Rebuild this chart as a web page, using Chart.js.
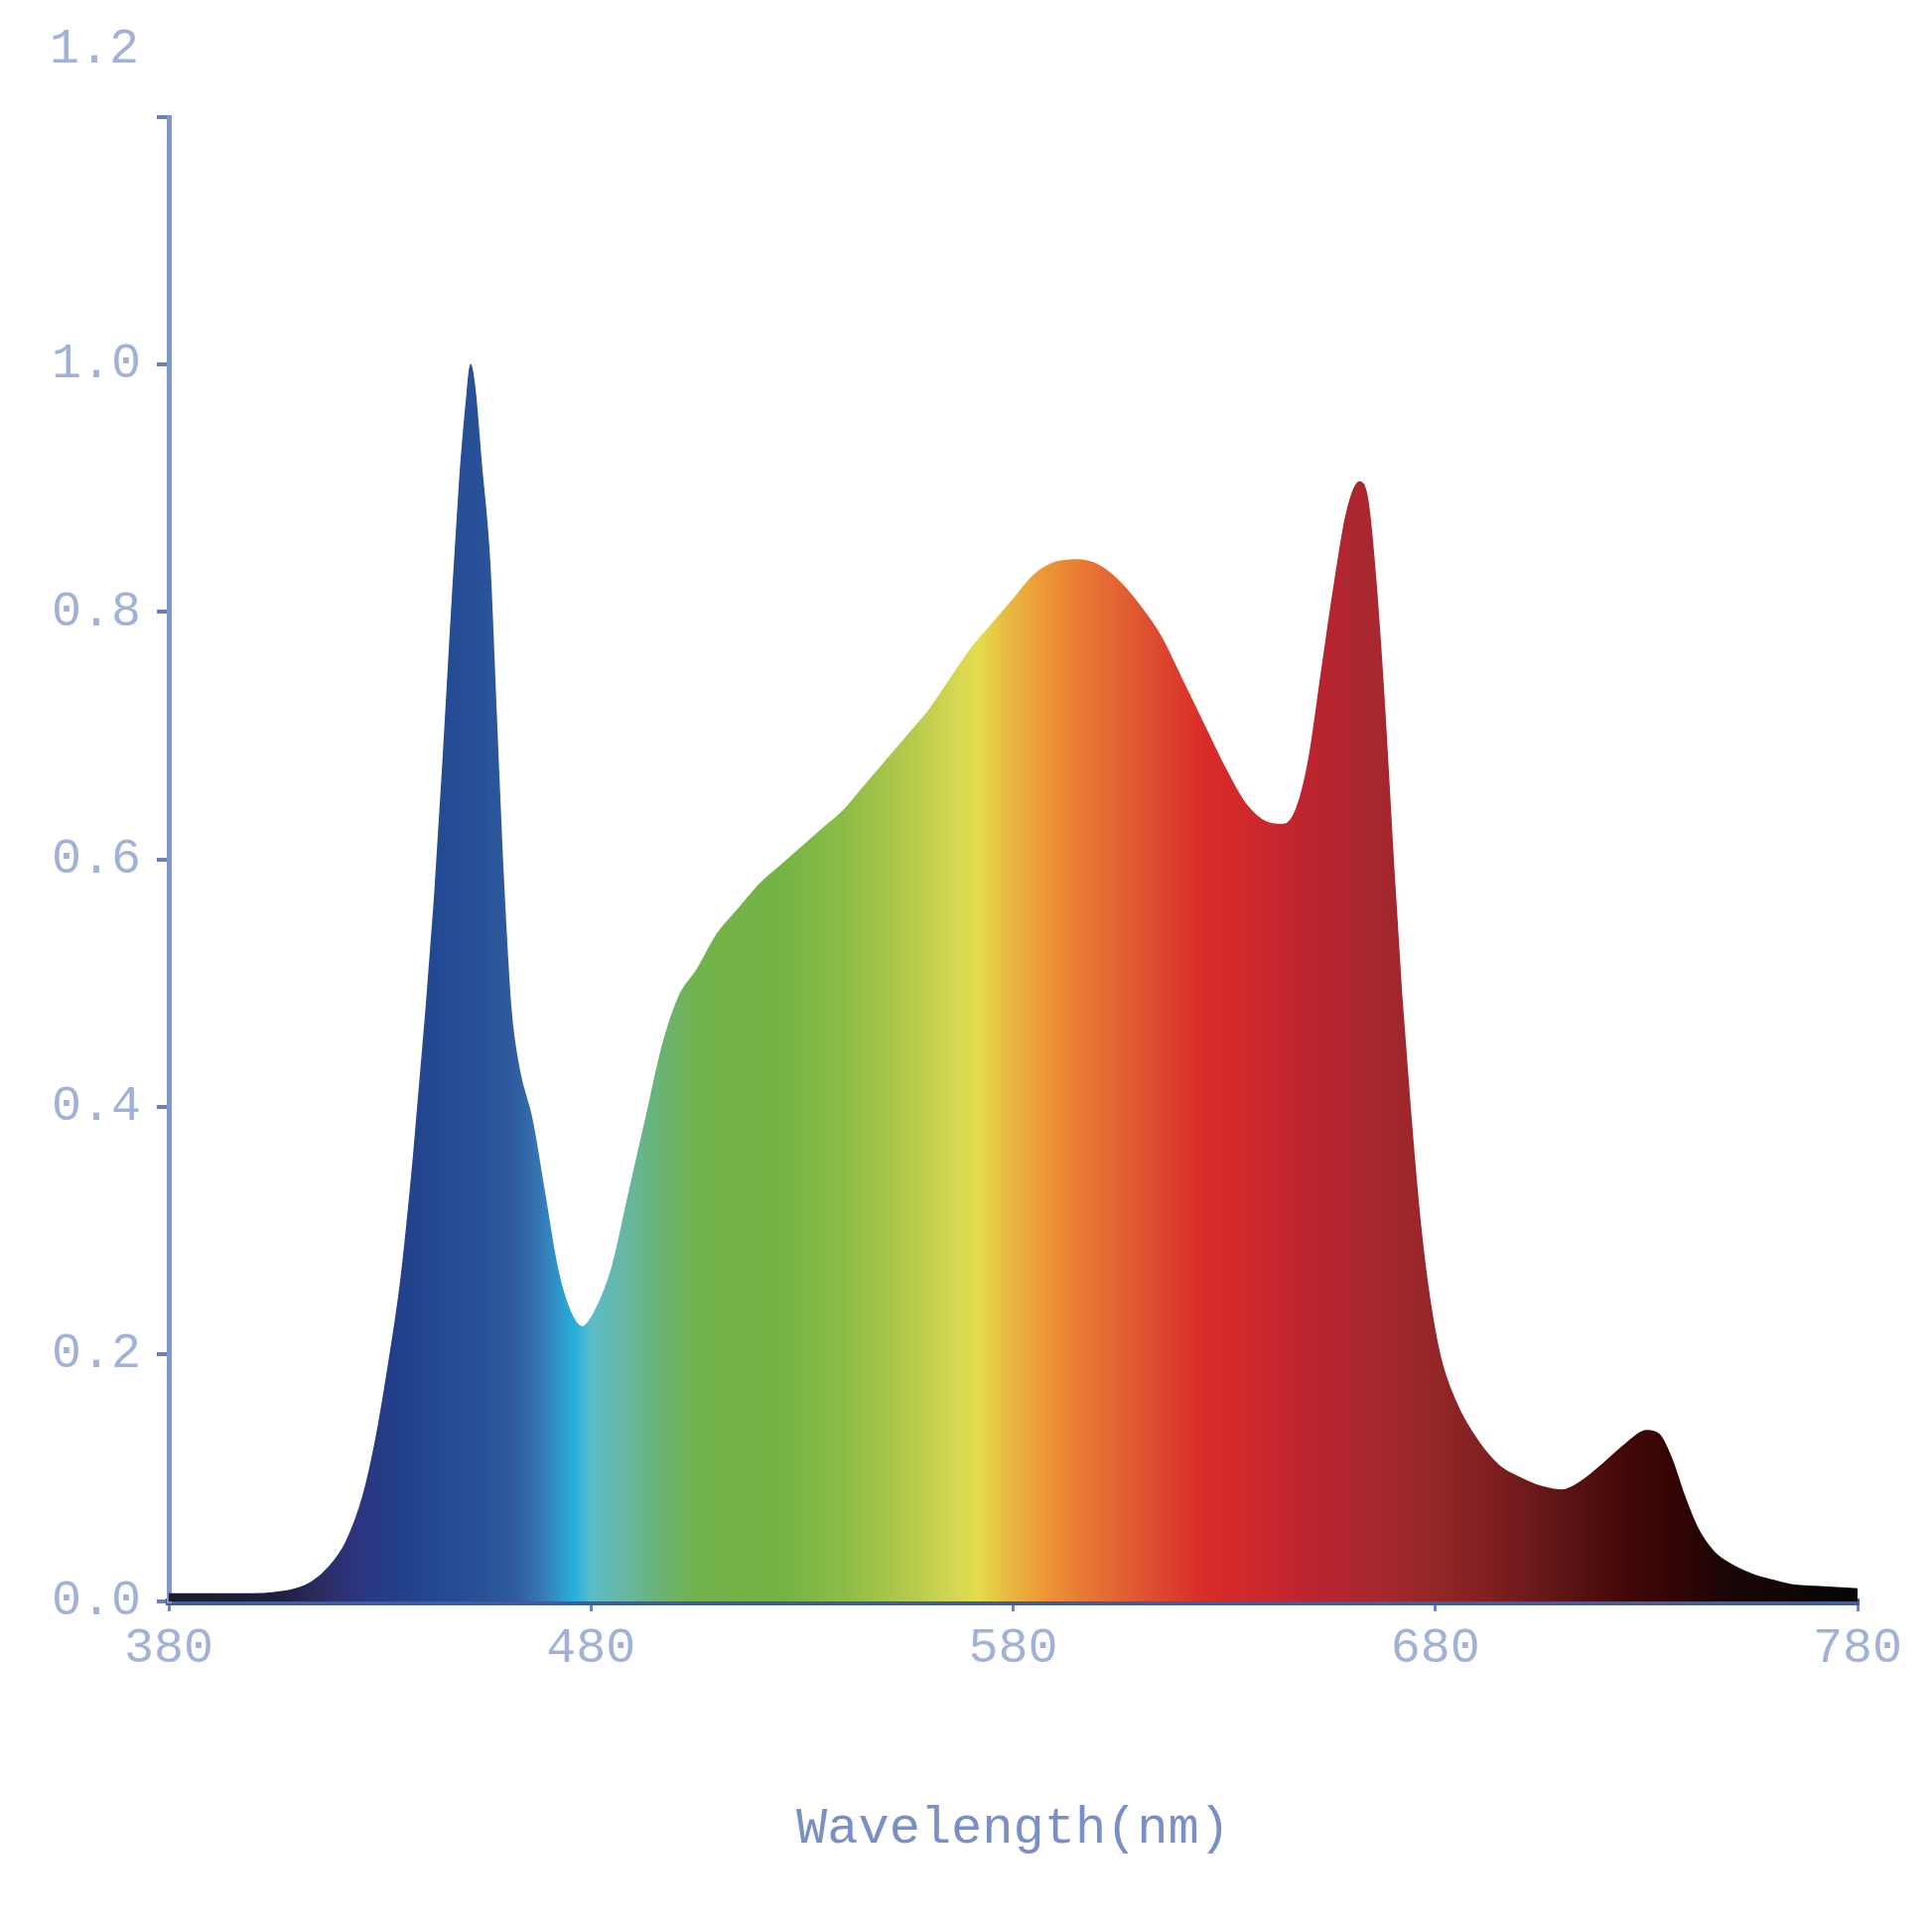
<!DOCTYPE html>
<html>
<head>
<meta charset="utf-8">
<script src="https://cdn.jsdelivr.net/npm/chart.js@4.4.1/dist/chart.umd.min.js"></script>
<style>
    html, body { margin: 0; padding: 0; background: #ffffff; }
    #wrap { width: 1946px; height: 1946px; }
</style>
</head>
<body>
<div id="wrap"><canvas id="spectrumChart" width="1946" height="1946"></canvas></div>
<script>
// Spectrum data (wavelength in nm, relative intensity)
const wavelengths = [
    380, 390, 400, 405, 410, 414, 418, 422, 426, 429, 432, 435, 438, 441, 443, 445, 447, 449, 450.5, 451.5,
    452.5, 454, 456, 457.5, 459, 461, 463, 466, 469, 472, 475, 478, 481, 485, 489, 493, 497, 501, 505, 510,
    515, 520, 525, 530, 535, 540, 545, 550, 555, 560, 565, 570, 575, 580, 585, 590, 595, 600, 605, 610,
    615, 620, 625, 630, 635, 640, 644, 647, 650, 653, 656, 659, 662, 664, 666, 668, 670, 672, 674, 676,
    678, 681, 685, 690, 695, 700, 705, 710, 715, 720, 725, 730, 733, 736, 739, 742, 746, 750, 755, 760,
    765, 770, 775, 780
];
const intensity = [
    0.006, 0.006, 0.006, 0.007, 0.010, 0.016, 0.028, 0.048, 0.085, 0.13, 0.19, 0.26, 0.36, 0.48, 0.57, 0.68, 0.80, 0.91, 0.97, 1.0,
    0.98, 0.92, 0.84, 0.72, 0.60, 0.48, 0.43, 0.39, 0.33, 0.27, 0.235, 0.222, 0.235, 0.27, 0.33, 0.39, 0.45, 0.49, 0.51, 0.54,
    0.56, 0.58, 0.595, 0.61, 0.625, 0.64, 0.66, 0.68, 0.70, 0.72, 0.745, 0.77, 0.79, 0.81, 0.83, 0.84, 0.842, 0.838, 0.825, 0.805,
    0.78, 0.745, 0.71, 0.675, 0.645, 0.63, 0.628, 0.64, 0.68, 0.75, 0.82, 0.88, 0.905, 0.89, 0.82, 0.72, 0.60, 0.49, 0.40, 0.32,
    0.26, 0.20, 0.16, 0.13, 0.11, 0.10, 0.093, 0.09, 0.098, 0.112, 0.127, 0.138, 0.135, 0.115, 0.085, 0.06, 0.04, 0.03, 0.022, 0.017,
    0.013, 0.012, 0.011, 0.01
];
const xTicks = [380, 480, 580, 680, 780];
const yTicks = [0, 0.2, 0.4, 0.6, 0.8, 1.0, 1.2];
const xTitle = 'Wavelength(nm)';

// colour of the fill at each wavelength
const spectrumStops = [
    [380, '#1c1c30'], [405, '#1e1e40'], [415, '#2a2a5e'], [425, '#2c3580'], [435, '#22418a'],
    [445, '#234a94'], [455, '#2a5298'], [462, '#2f5c9e'], [468, '#3677b4'], [473, '#2f9acc'],
    [476, '#25b0dc'], [480, '#5bbcc8'], [487, '#65b8a8'], [495, '#69b47a'], [505, '#72b24c'],
    [525, '#74b444'], [540, '#8cbc46'], [555, '#b3c94c'], [566, '#d4d652'], [572, '#e4dc4c'],
    [578, '#e8bc42'], [586, '#ec9c38'], [596, '#e87a34'], [608, '#e05a32'], [618, '#dc3e2c'],
    [626, '#d82c28'], [638, '#cc282c'], [650, '#bc2430'], [665, '#a8282e'], [680, '#942628'],
    [695, '#7c1e20'], [710, '#5e1414'], [725, '#420808'], [735, '#360404'], [750, '#1a0606'],
    [780, '#050505']
];

const tickColor = '#a2b1d8';
const axisFont = { family: 'Liberation Mono', size: 50 };

function spectrumGradient(context) {
    const chart = context.chart;
    const { ctx, chartArea, scales } = chart;
    if (!chartArea) return '#234a94';
    const x0 = scales.x.getPixelForValue(380);
    const x1 = scales.x.getPixelForValue(780);
    const g = ctx.createLinearGradient(x0, 0, x1, 0);
    spectrumStops.forEach(s => g.addColorStop((s[0] - 380) / 400, s[1]));
    return g;
}

// the 1.2 label sits up in the corner, away from its tick
const cornerLabel = {
    id: 'cornerLabel',
    afterDraw(chart) {
        const ctx = chart.ctx;
        ctx.save();
        ctx.font = '50px "Liberation Mono"';
        ctx.fillStyle = tickColor;
        ctx.textAlign = 'right';
        ctx.textBaseline = 'middle';
        ctx.fillText(yTicks[yTicks.length - 1].toFixed(1), 140, 50);
        ctx.restore();
    }
};

const ctx = document.getElementById('spectrumChart').getContext('2d');
new Chart(ctx, {
    type: 'line',
    data: {
        datasets: [{
            data: wavelengths.map((w, i) => ({ x: w, y: intensity[i] })),
            backgroundColor: spectrumGradient,
            borderColor: spectrumGradient,
            borderWidth: 1.5,
            fill: 'origin',
            pointRadius: 0,
            cubicInterpolationMode: 'monotone'
        }]
    },
    options: {
        responsive: false,
        animation: false,
        layout: { padding: { left: 0, right: 75, top: 118, bottom: 0 } },
        plugins: { legend: { display: false }, tooltip: { enabled: false } },
        scales: {
            x: {
                type: 'linear',
                min: 380,
                max: 780,
                afterBuildTicks: scale => { scale.ticks = xTicks.map(v => ({ value: v })); },
                afterFit: scale => { scale.height = 333; },
                border: { display: true, color: '#3f5c9c', width: 7 },
                grid: { drawOnChartArea: false, drawTicks: true, tickLength: 10, color: '#6f86bf', lineWidth: 3 },
                ticks: { color: tickColor, font: axisFont, padding: 8, maxRotation: 0 },
                title: {
                    display: true,
                    text: xTitle,
                    color: '#7a8fc6',
                    font: { family: 'Liberation Mono', size: 52 },
                    padding: { top: 0, bottom: 73 }
                }
            },
            y: {
                min: 0,
                max: 1.2,
                afterBuildTicks: scale => { scale.ticks = yTicks.map(v => ({ value: v })); },
                afterFit: scale => { scale.width = 170; },
                border: { display: true, color: '#8296c8', width: 5 },
                grid: { drawOnChartArea: false, drawTicks: true, tickLength: 12, color: '#6a80bc', lineWidth: 4 },
                ticks: {
                    color: tickColor,
                    font: axisFont,
                    padding: 16,
                    callback: v => (v >= 1.19 ? '' : v.toFixed(1))
                }
            }
        }
    },
    plugins: [cornerLabel]
});
</script>
</body>
</html>
